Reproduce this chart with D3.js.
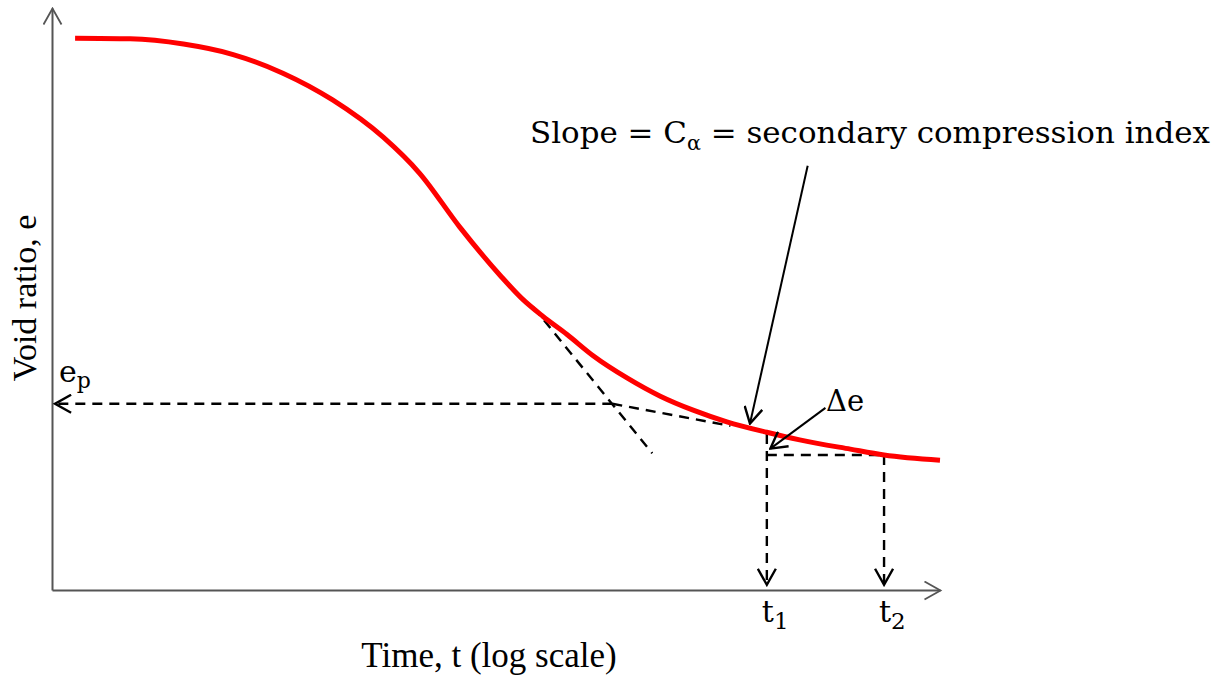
<!DOCTYPE html>
<html>
<head>
<meta charset="utf-8">
<script src="https://cdn.jsdelivr.net/npm/d3@7"></script>
<style>
  body { margin: 0; background: #fff; }
  text { fill: #000; }
  .serif { font-family: "Liberation Serif", "Times New Roman", serif; }
  .math { font-family: "DejaVu Serif", serif; }
</style>
</head>
<body>
<svg id="chart" width="1226" height="679"></svg>
<script>
// log-time position (0..100) and void ratio (0..100)
var curveT = [2.6, 8.8, 14.8, 20.4, 26, 31.6, 37.3, 41.4, 45.9, 50.5, 52.9, 55.3, 58, 60.9, 64.8, 68.5, 72.2, 76, 80.5, 84.2, 89.9, 93.7, 100];
var curveE = [94.8, 94.7, 93.8, 92, 88.8, 84.2, 77.8, 71.6, 62.4, 54, 50.1, 47, 43.9, 40.3, 36.4, 33.3, 30.9, 28.9, 27.1, 25.8, 24.2, 23.2, 22.3];

// primary tangent and secondary line
var tangentT = [54.2, 67.6], tangentE = [48.6, 23.5];
var secT = [63.1, 76.4], secE = [32, 28.2];
var ep = 32;                      // e_p level
var t1 = 80.5, t2 = 93.7;
var e1 = 26.8, e2 = 23.2;

var svg = d3.select("#chart");
var x = d3.scaleLinear().domain([0, 100]).range([52, 940]);
var y = d3.scaleLinear().domain([0, 100]).range([590, 8]);

// arrow markers
var defs = svg.append("defs");
function marker(id, color, w) {
  defs.append("marker")
    .attr("id", id)
    .attr("viewBox", "0 0 20 20")
    .attr("refX", 18).attr("refY", 10)
    .attr("markerWidth", 20).attr("markerHeight", 20)
    .attr("markerUnits", "userSpaceOnUse")
    .attr("orient", "auto")
    .append("path")
    .attr("d", "M2,1 L18,10 L2,19")
    .attr("fill", "none")
    .attr("stroke", color)
    .attr("stroke-width", w);
}
marker("arrAxis", "#555", 1.8);
marker("arrBlack", "#000", 2.4);

// axes
svg.append("g")
  .attr("transform", "translate(0," + y(0) + ")")
  .call(d3.axisBottom(x).tickValues([]).tickSizeOuter(0));
svg.append("g")
  .attr("transform", "translate(" + x(0) + ",0)")
  .call(d3.axisLeft(y).tickValues([]).tickSizeOuter(0));
svg.selectAll(".domain")
  .attr("stroke", "#555")
  .attr("stroke-width", 2)
  .attr("marker-end", "url(#arrAxis)");

var line = d3.line()
  .x(function(d) { return x(d[0]); })
  .y(function(d) { return y(d[1]); });

function dashed(pts, arrow) {
  var p = svg.append("path")
    .datum(pts)
    .attr("fill", "none")
    .attr("stroke", "#000")
    .attr("stroke-width", 2.4)
    .attr("stroke-dasharray", "10,7")
    .attr("d", line);
  if (arrow) p.attr("marker-end", "url(#arrBlack)");
  return p;
}

// tangent + secondary lines
dashed(d3.zip(tangentT, tangentE));
dashed(d3.zip(secT, secE));
dashed([[secT[0], ep], [0.35, ep]], true);

// t1 / t2 construction
dashed([[t1, e1], [t1, 0.9]], true);
dashed([[t1, e2], [t2, e2]]);
dashed([[t2, e2], [t2, 0.9]], true);

// consolidation curve
svg.append("path")
  .datum(d3.zip(curveT, curveE))
  .attr("fill", "none")
  .attr("stroke", "#ff0000")
  .attr("stroke-width", 5)
  .attr("d", d3.line()
    .x(function(d) { return x(d[0]); })
    .y(function(d) { return y(d[1]); })
    .curve(d3.curveMonotoneX));

// solid pointer arrows
function pointer(a, b) {
  svg.append("path")
    .datum([a, b])
    .attr("fill", "none")
    .attr("stroke", "#000")
    .attr("stroke-width", 2)
    .attr("marker-end", "url(#arrBlack)")
    .attr("d", line);
}
pointer([85.1, 72.9], [78.6, 28.6]);
pointer([87.1, 31.3], [80.9, 24.3]);

// labels
var slope = svg.append("text")
  .attr("class", "math")
  .attr("x", 530).attr("y", 143)
  .attr("textLength", 680)
  .attr("lengthAdjust", "spacingAndGlyphs")
  .style("font-size", "30px");
slope.append("tspan").text("Slope = C");
slope.append("tspan").attr("dy", 7).style("font-size", "20px").text("α");
slope.append("tspan").attr("dy", -7).text(" = secondary compression index");

var epL = svg.append("text").attr("class", "math")
  .attr("x", 59).attr("y", 382).style("font-size", "30px");
epL.append("tspan").text("e");
epL.append("tspan").attr("dy", 6).style("font-size", "22px").text("p");

svg.append("text").attr("class", "math")
  .attr("x", 826).attr("y", 411).style("font-size", "29px").text("Δe");

[[t1, "1"], [t2, "2"]].forEach(function(d) {
  var t = svg.append("text")
    .attr("class", "math")
    .attr("x", x(d[0]) - 5).attr("y", 622)
    .style("font-size", "30px");
  t.append("tspan").text("t");
  t.append("tspan").attr("dy", 7).style("font-size", "23px").text(d[1]);
});

svg.append("text")
  .attr("class", "serif")
  .attr("x", 489).attr("y", 667)
  .attr("text-anchor", "middle")
  .style("font-size", "35px")
  .text("Time, t (log scale)");

svg.append("text")
  .attr("class", "serif")
  .attr("transform", "translate(36,298) rotate(-90)")
  .attr("text-anchor", "middle")
  .style("font-size", "34px")
  .text("Void ratio, e");
</script>
</body>
</html>
